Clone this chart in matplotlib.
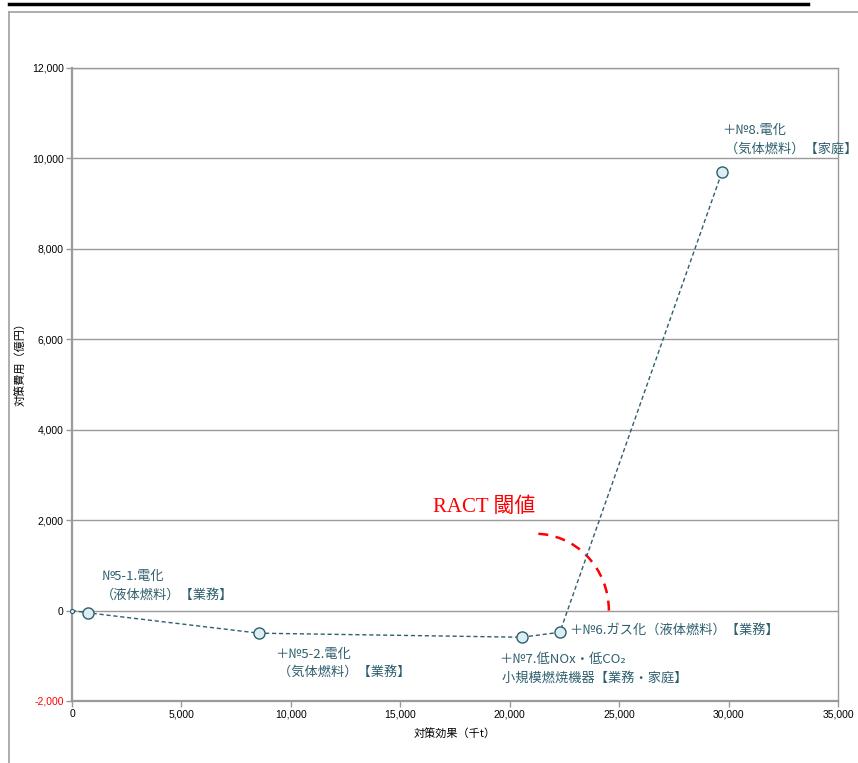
import matplotlib
matplotlib.use("Agg")
import matplotlib.pyplot as plt
from matplotlib.patches import Arc
from matplotlib.lines import Line2D

plt.rcParams['font.family'] = ['Noto Sans CJK JP', 'DejaVu Sans']

# Cumulative effect (千t) and cumulative cost (億円) of measures
effect = [0, 730, 8540, 20560, 22290, 29700]
cost = [0, -50, -500, -590, -480, 9700]

labels = [
    "№5-1.電化\n（液体燃料）【業務】",
    "＋№5-2.電化\n （気体燃料）【業務】",
    "＋№7.低NOx・低CO₂\n 小規模燃焼機器【業務・家庭】",
    "＋№6.ガス化（液体燃料）【業務】",
    "＋№8.電化\n （気体燃料）【家庭】",
]
label_offsets = [(13, 27), (16, -30), (-23, -32), (9, 2), (0, 32)]

x_ticks = [0, 5000, 10000, 15000, 20000, 25000, 30000, 35000]
y_ticks = [-2000, 0, 2000, 4000, 6000, 8000, 10000, 12000]
x_ticklabels = ["0", "5,000", "10,000", "15,000", "20,000", "25,000", "30,000", "35,000"]
y_ticklabels = ["-2,000", "0", "2,000", "4,000", "6,000", "8,000", "10,000", "12,000"]

W, H = 858, 763
fig = plt.figure(figsize=(W / 100, H / 100), dpi=100)
ax = fig.add_axes([72 / W, 1 - 701 / H, (838 - 72) / W, (701 - 68) / H])

teal = "#2E5F6E"
grid_c = "#9A9A9A"

ax.set_xlim(0, 35000)
ax.set_ylim(-2000, 12000)
for y in y_ticks[1:]:
    ax.axhline(y, color=grid_c, lw=1.0, zorder=1)

ax.plot(effect, cost, ls=(0, (3, 2)), color=teal, lw=1.0, zorder=3)
ax.plot(effect[1:], cost[1:], ls="none", marker="o", ms=8, mfc="#DCEEF2",
        mec=teal, mew=1.0, zorder=4)
ax.plot(effect[:1], cost[:1], ls="none", marker="o", ms=3, mfc="#DCEEF2",
        mec=teal, mew=0.8, zorder=4, clip_on=False)

for (x, y), txt, (dx, dy) in zip(zip(effect[1:], cost[1:]), labels, label_offsets):
    ax.annotate(txt, (x, y), xytext=(dx, dy), textcoords="offset pixels",
                ha="left", va="center", fontsize=9.5, color=teal, linespacing=1.55,
                annotation_clip=False, zorder=5)

# RACT threshold arc
ax.add_patch(Arc((21150, 0), 2 * 3380, 2 * 1700, theta1=0, theta2=90,
                 color="red", lw=1.8, ls=(0, (4, 3)), zorder=2))
ax.text(18820, 2290, "RACT 閾値", color="red", fontsize=15,
        family=["Liberation Serif", "Noto Sans CJK JP"], ha="center", va="center")

ax.set_xticks(x_ticks)
ax.set_xticklabels(x_ticklabels, fontsize=7.5, family=["Liberation Sans"])
ax.set_yticks(y_ticks)
ax.set_yticklabels(y_ticklabels, fontsize=7.5, family=["Liberation Sans"])
ax.get_yticklabels()[0].set_color("red")
ax.tick_params(axis="both", length=4, width=1.0, color=grid_c, pad=2)

for side in ["left", "bottom", "right", "top"]:
    ax.spines[side].set_color(grid_c)
ax.spines["left"].set_linewidth(1.6)
ax.spines["bottom"].set_linewidth(1.6)
ax.spines["right"].set_linewidth(1.0)
ax.spines["top"].set_linewidth(1.0)

fig.text(455 / W, 1 - 733 / H, "対策効果（千t）", fontsize=8, ha="center", va="center")
fig.text(20 / W, 1 - 362 / H, "対策費用（億円）", fontsize=8, ha="center", va="center",
         rotation=90)

# Outer chart frame and heading rule
fig.add_artist(Line2D([9 / W, 9 / W], [0, 1 - 12 / H], transform=fig.transFigure,
                      color="#A0A0A0", lw=1.2))
fig.add_artist(Line2D([9 / W, 1], [1 - 12 / H, 1 - 12 / H], transform=fig.transFigure,
                      color="#A0A0A0", lw=1.2))
fig.add_artist(Line2D([9 / W, 808 / W], [1 - 4 / H, 1 - 4 / H], transform=fig.transFigure,
                      color="black", lw=2.5))

fig.savefig("out.png", dpi=100)
